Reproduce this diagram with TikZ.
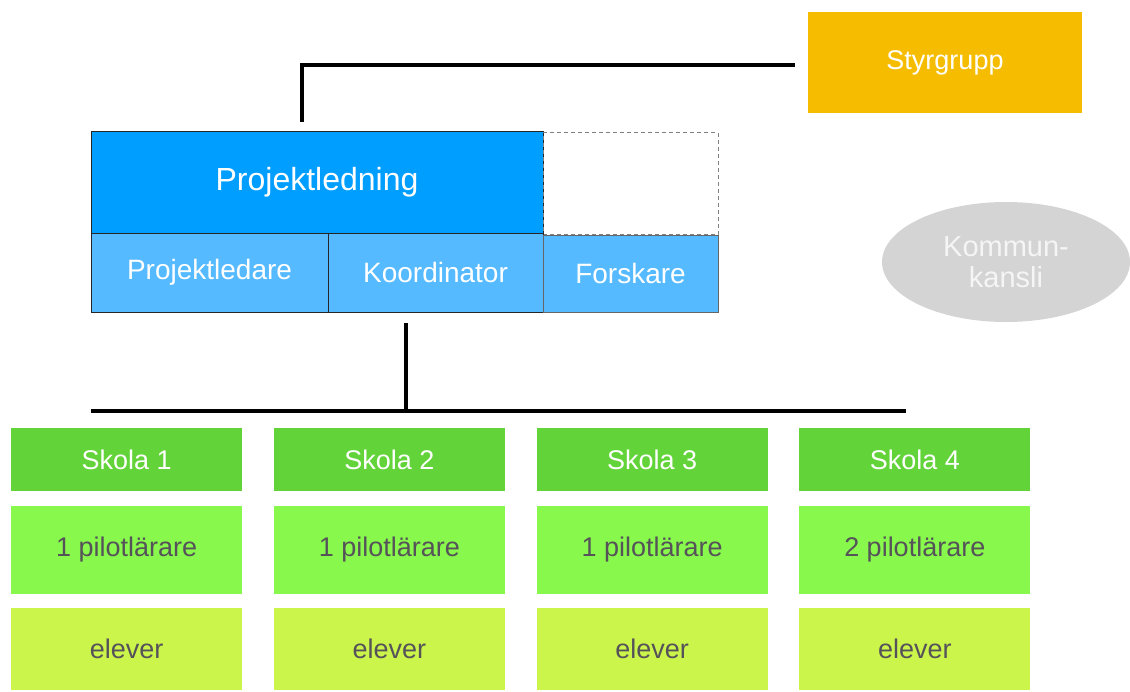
\documentclass[tikz,border=0pt]{standalone}
\usepackage{fontspec}
\setmainfont{Liberation Sans}
\usepackage{tikz}
\usetikzlibrary{shapes.geometric}
\usetikzlibrary{matrix}
\usetikzlibrary{calc}

\definecolor{styrorange}{HTML}{F5BC00}
\definecolor{projblue}{HTML}{009EFF}
\definecolor{subblue}{HTML}{55BAFF}
\definecolor{kommgray}{HTML}{D4D4D4}
\definecolor{skolgreen}{HTML}{62D338}
\definecolor{pilotgreen}{HTML}{88F84C}
\definecolor{elevgreen}{HTML}{CCF54C}
\definecolor{darktext}{HTML}{555259}

\tikzset{
  box/.style={rectangle, inner sep=0pt, outer sep=0pt, font=\fontsize{27}{31}\selectfont},
  subbox/.style={box, fill=subblue, draw=black!85, line width=1pt, text=white,
    minimum height=79pt, font=\fontsize{28}{32}\selectfont},
  skola/.style={box, fill=skolgreen, text=white, minimum width=231pt, minimum height=63pt},
  pilot/.style={box, fill=pilotgreen, text=darktext, minimum width=231pt, minimum height=88pt},
  elev/.style={box, fill=elevgreen, text=darktext, minimum width=231pt, minimum height=82pt},
  conn/.style={line width=3.5pt, black}
}

\begin{document}
\begin{tikzpicture}[x=1pt,y=-1pt]
\useasboundingbox (0,0) rectangle (1130,691);

\node[box, fill=styrorange, text=white, minimum width=274pt, minimum height=101pt]
  (styr) at (945,62.5) {Styrgrupp};

\node[box, fill=projblue, draw=black!85, line width=1pt, text=white,
  minimum width=452pt, minimum height=102pt, font=\fontsize{32}{37}\selectfont]
  (proj) at (317,182) {Projektledning};
\node[box, draw=gray, dashed, dash pattern=on 4pt off 3pt, line width=0.9pt,
  minimum width=175pt, minimum height=102pt] (tom) at (630.5,183.5) {};

\node[subbox, minimum width=237pt] (pledare) at (209.5,272.5) {Projektledare};
\node[subbox, minimum width=215pt] (koord) at (435.5,272.5) {Koordinator};
\node[subbox, draw=black!60, minimum width=175pt, minimum height=77pt]
  (forsk) at (630.5,273.5) {Forskare};

\node[ellipse, fill=kommgray, text=white!96!black, inner sep=0pt,
  minimum width=248pt, minimum height=120pt, align=center,
  font=\fontsize{29}{31}\selectfont] (komm) at (1006,262) {Kommun-\\kansli};

\matrix (s) [matrix of nodes, inner sep=0pt, column sep=31.7pt, row sep=14.5pt,
  anchor=north west, row 1/.style={nodes=skola}, row 2/.style={nodes=pilot},
  row 3/.style={nodes=elev}] at (11,428) {
Skola 1 & Skola 2 & Skola 3 & Skola 4 \\
1 pilotlärare & 1 pilotlärare & 1 pilotlärare & 2 pilotlärare \\
elever & elever & elever & elever \\
};

\coordinate (busL) at (91,411);
\coordinate (busR) at (906,411);
\coordinate (bus) at (406,411);

\draw[conn] ([xshift=-15pt,yshift=9pt]proj.north) |- ([xshift=-13pt,yshift=-2.5pt]styr.west);
\draw[conn] ([xshift=-29.5pt,yshift=-11pt]koord.south) -- (bus);
\draw[conn] (busL) -- (busR);

\end{tikzpicture}
\end{document}
